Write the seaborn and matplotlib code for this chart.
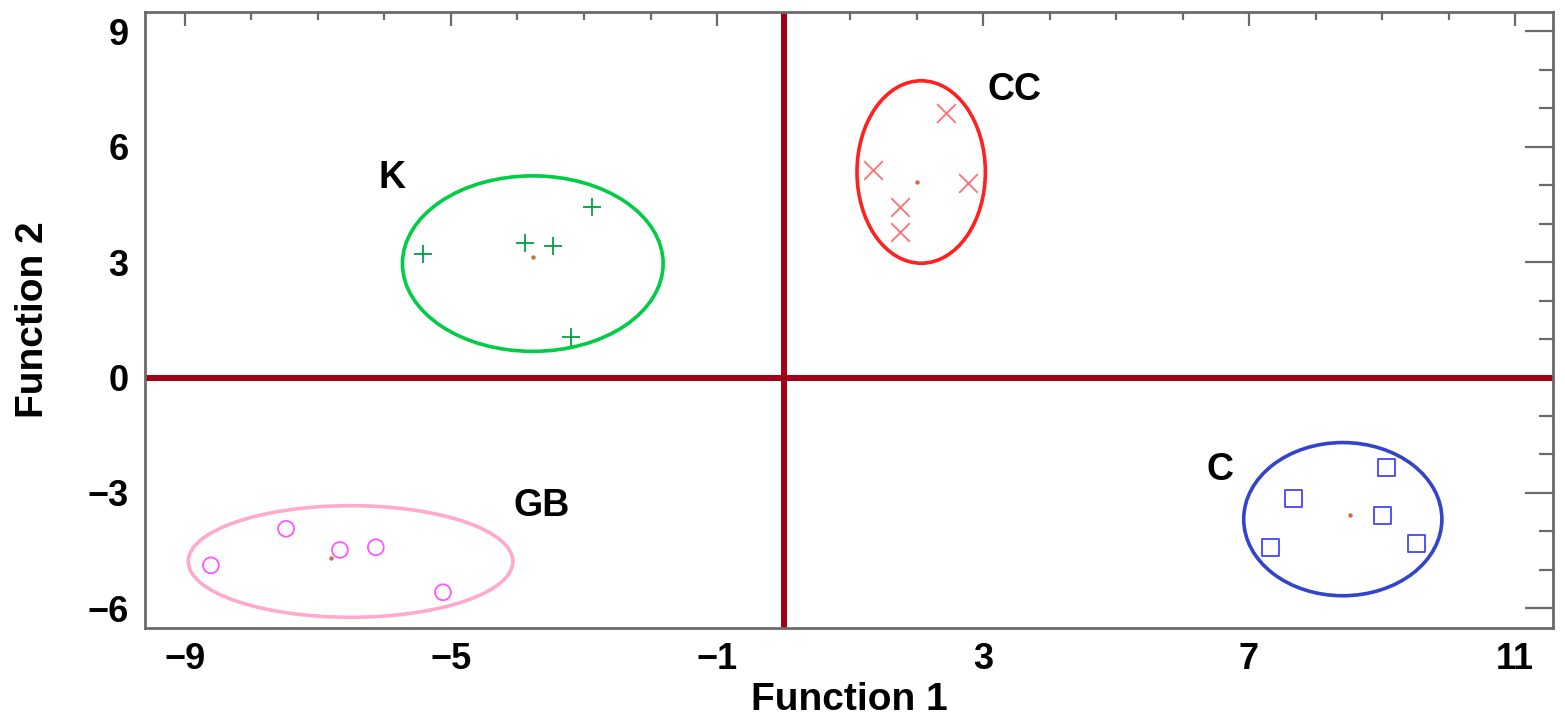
import matplotlib
matplotlib.use("Agg")
import matplotlib.pyplot as plt
import seaborn as sns
import pandas as pd
from matplotlib.patches import Ellipse
from matplotlib.ticker import MultipleLocator

# group names
groups = ['K', 'CC', 'GB', 'C']

# discriminant scores (Function 1, Function 2)
k_f1 = [-5.42, -3.88, -3.47, -2.88, -3.20]
k_f2 = [3.21, 3.49, 3.43, 4.43, 1.05]
cc_f1 = [2.44, 1.34, 2.77, 1.75, 1.75]
cc_f2 = [6.87, 5.39, 5.06, 4.43, 3.78]
gb_f1 = [-8.61, -7.48, -6.67, -6.13, -5.12]
gb_f2 = [-4.88, -3.93, -4.48, -4.41, -5.58]
c_f1 = [9.06, 7.67, 9.01, 9.52, 7.33]
c_f2 = [-2.34, -3.15, -3.59, -4.30, -4.41]

# group centroids
cent_f1 = [-3.77, 2.00, -6.81, 8.52]
cent_f2 = [3.13, 5.08, -4.68, -3.57]

# confidence ellipses: centre and half axes
ell_cx = [-3.77, 2.07, -6.51, 8.41]
ell_cy = [2.96, 5.34, -4.78, -3.68]
ell_rx = [1.96, 0.965, 2.44, 1.49]
ell_ry = [2.28, 2.37, 1.45, 1.99]

# group label positions
lab_x = [-5.89, 3.48, -3.63, 6.57]
lab_y = [5.18, 7.47, -3.35, -2.40]

xticks = [-9, -5, -1, 3, 7, 11]
yticks = [-6, -3, 0, 3, 6, 9]

sns.set_theme(style="white")
plt.rcParams['font.family'] = ['Liberation Sans', 'DejaVu Sans']
plt.rcParams['font.weight'] = 'bold'

pts = pd.DataFrame({
    'f1': k_f1 + cc_f1 + gb_f1 + c_f1,
    'f2': k_f2 + cc_f2 + gb_f2 + c_f2,
    'grp': ['K'] * 5 + ['CC'] * 5 + ['GB'] * 5 + ['C'] * 5,
})

fig = plt.figure(figsize=(15.65, 7.28), dpi=100)
ax = fig.add_axes([0.0927, 0.1378, 0.8996, 0.8453])

# reference lines
ax.axhline(0, color='#a00018', lw=4.3, zorder=1)
ax.axvline(0, color='#a00018', lw=4.3, zorder=1)

ell_col = ['#00cc44', '#ff2020', '#ffaacc', '#3344cc']
mk = {'K': '+', 'CC': 'x', 'GB': 'o', 'C': 's'}
mk_col = {'K': '#00a040', 'CC': '#ff7070', 'GB': '#ff55ff', 'C': '#4444ff'}
mk_size = {'K': 180, 'CC': 180, 'GB': 130, 'C': 150}

for i, g in enumerate(groups):
    ax.add_patch(Ellipse((ell_cx[i], ell_cy[i]), 2 * ell_rx[i], 2 * ell_ry[i],
                         fill=False, edgecolor=ell_col[i], lw=2.6, zorder=2))
    sub = pts[pts['grp'] == g]
    if mk[g] in ('o', 's'):
        sns.scatterplot(data=sub, x='f1', y='f2', marker=mk[g], s=mk_size[g],
                        facecolors='none', edgecolor=mk_col[g], linewidth=1.3,
                        ax=ax, zorder=3, legend=False)
    else:
        sns.scatterplot(data=sub, x='f1', y='f2', marker=mk[g], s=mk_size[g],
                        color=mk_col[g], linewidth=1.3, ax=ax, zorder=3, legend=False)
    ax.text(lab_x[i], lab_y[i], g, fontsize=27, fontweight='bold',
            ha='center', va='center', color='black')

sns.scatterplot(x=cent_f1, y=cent_f2, color='#c8703c', s=10, linewidth=0,
                ax=ax, zorder=4, legend=False)

ax.set_xlim(-9.6, 11.57)
ax.set_ylim(-6.5, 9.49)
ax.set_xticks(xticks)
ax.set_yticks(yticks)
ax.xaxis.set_minor_locator(MultipleLocator(1))
ax.yaxis.set_minor_locator(MultipleLocator(1))
ax.tick_params(axis='both', which='both', direction='in', top=True, right=True,
               colors='#6a6a6a', width=1.6, labelcolor='black', labelsize=26)
ax.tick_params(axis='x', which='major', length=10, pad=10)
ax.tick_params(axis='x', which='minor', length=6)
ax.tick_params(axis='y', which='major', length=20, pad=12)
ax.tick_params(axis='y', which='minor', length=10)
for lab in ax.get_xticklabels() + ax.get_yticklabels():
    lab.set_fontweight('bold')
for sp in ax.spines.values():
    sp.set_color('#6a6a6a')
    sp.set_linewidth(2)

ax.set_xlabel('Function 1', fontsize=28, fontweight='bold', color='black', labelpad=4)
ax.set_ylabel('Function 2', fontsize=28, fontweight='bold', color='black', labelpad=26)

fig.savefig('out.png', dpi=100)
